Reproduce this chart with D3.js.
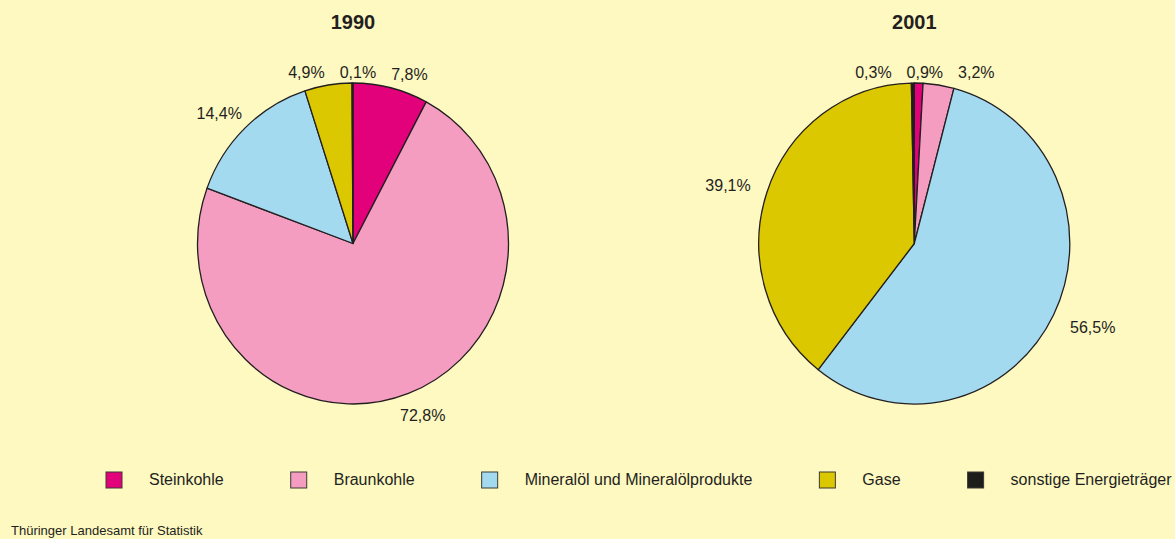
<!DOCTYPE html>
<html>
<head>
<meta charset="utf-8">
<script src="https://cdn.jsdelivr.net/npm/d3@7"></script>
<style>
  html, body { margin: 0; padding: 0; background: #FEF8C1; }
  svg { display: block; font-family: "Liberation Sans", Arial, sans-serif; }
</style>
</head>
<body>
<svg id="chart" width="1175" height="539"></svg>
<script>
// ---- data ----
const categories = ["Steinkohle", "Braunkohle", "Mineralöl und Mineralölprodukte", "Gase", "sonstige Energieträger"];
const colors = ["#E3007B", "#F49DC1", "#A4DAF0", "#DCC800", "#1D1D1B"];
const years = ["1990", "2001"];
const values1990 = [7.8, 72.8, 14.4, 4.9, 0.1];
const values2001 = [0.9, 3.2, 56.5, 39.1, 0.3];
const labels1990 = ["7,8%", "72,8%", "14,4%", "4,9%", "0,1%"];
const labels2001 = ["0,9%", "3,2%", "56,5%", "39,1%", "0,3%"];
const footer = "Thüringer Landesamt für Statistik";

// ---- layout ----
const W = 1175, H = 539;
const svg = d3.select("#chart");
svg.append("rect").attr("width", W).attr("height", H).attr("fill", "#FEF8C1");

const ink = "#231F20";
const ry = 160.5, rx = 155.5;
const cy = 243.5;
const centers = d3.scalePoint().domain(years).range([353, 914.3]);
const color = d3.scaleOrdinal().domain(categories).range(colors);

const pie = d3.pie().sort(null).value(d => d.v);
const arc = d3.arc().innerRadius(0).outerRadius(ry);

const series = [
  { year: "1990", values: values1990, labels: labels1990 },
  { year: "2001", values: values2001, labels: labels2001 }
];

series.forEach(s => {
  const cx = centers(s.year);
  const data = categories.map((c, i) => ({ c, v: s.values[i], lab: s.labels[i] }));
  const arcs = pie(data);

  // title
  svg.append("text")
    .attr("x", cx).attr("y", 29)
    .attr("text-anchor", "middle")
    .attr("font-size", 20).attr("font-weight", "bold")
    .attr("fill", ink)
    .text(s.year);

  const g = svg.append("g")
    .attr("transform", `translate(${cx},${cy}) scale(${rx / ry},1)`);
  g.selectAll("path").data(arcs).join("path")
    .attr("d", arc)
    .attr("fill", d => color(d.data.c))
    .attr("stroke", ink)
    .attr("stroke-width", 1.3)
    .attr("stroke-linejoin", "round")
    .attr("vector-effect", "non-scaling-stroke");

  // labels: placed just outside the ellipse along the mid-angle
  const lg = svg.append("g");
  const items = arcs.map(d => {
    const a = (d.startAngle + d.endAngle) / 2;
    const t = lg.append("text")
      .attr("font-size", 16).attr("fill", ink)
      .attr("text-anchor", "middle")
      .text(d.data.lab);
    const w = t.node().getComputedTextLength();
    const h = 12;
    const sx = Math.sin(a), sy = -Math.cos(a);
    const gap = 5 + 14 * Math.abs(sx) + 8 * Math.max(0, sy);
    const x = cx + (rx + gap) * sx + sx * w / 2;
    const y = cy + (ry + gap) * sy + sy * h / 2;
    return { t, x, y, w, h, a };
  });
  // horizontal collision resolution, ordered by angle around the top
  const pad = 15;
  for (let iter = 0; iter < 80; iter++) {
    let moved = false;
    for (let i = 0; i < items.length; i++) {
      for (let j = i + 1; j < items.length; j++) {
        const A = items[i], B = items[j];
        const ox = (A.w + B.w) / 2 + pad - Math.abs(A.x - B.x);
        const oy = (A.h + B.h) / 2 + 2 - Math.abs(A.y - B.y);
        if (ox > 0.01 && oy > 0) {
          const aa = A.a > Math.PI ? A.a - 2 * Math.PI : A.a;
          const bb = B.a > Math.PI ? B.a - 2 * Math.PI : B.a;
          const d2 = aa < bb ? 1 : -1;
          A.x -= d2 * ox / 2;
          B.x += d2 * ox / 2;
          moved = true;
        }
      }
    }
    if (!moved) break;
  }
  items.forEach(it => {
    it.t.attr("x", it.x).attr("y", it.y + it.h / 2);
  });
});

// ---- legend ----
const leg = svg.append("g");
let lx = 106;
categories.forEach(c => {
  leg.append("rect")
    .attr("x", lx).attr("y", 472)
    .attr("width", 16).attr("height", 16)
    .attr("fill", color(c))
    .attr("stroke", "#3a3a30").attr("stroke-width", 1);
  const t = leg.append("text")
    .attr("x", lx + 43).attr("y", 485)
    .attr("font-size", 16).attr("fill", ink)
    .text(c);
  lx += 43 + t.node().getComputedTextLength() + 67;
});

// ---- footer ----
svg.append("text")
  .attr("x", 11).attr("y", 535)
  .attr("font-size", 13).attr("fill", ink)
  .text(footer);
</script>
</body>
</html>
